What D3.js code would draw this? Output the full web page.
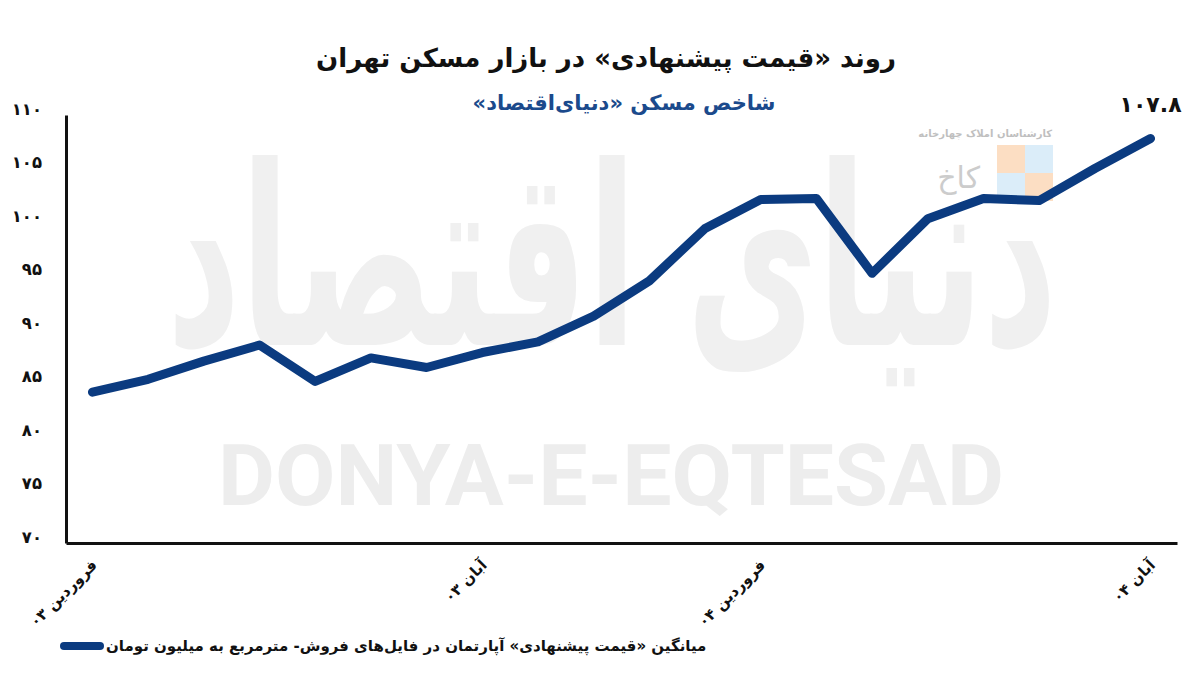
<!DOCTYPE html>
<html><head><meta charset="utf-8">
<script src="https://cdn.jsdelivr.net/npm/d3@7"></script>
<style>
html,body{margin:0;padding:0;background:#fff;}
svg{display:block;font-family:"DejaVu Sans","Noto Sans",sans-serif;}
</style></head>
<body><svg id="c" width="1200" height="686"></svg>
<script>
const months = ["فروردین ۰۳","اردیبهشت ۰۳","خرداد ۰۳","تیر ۰۳","مرداد ۰۳","شهریور ۰۳","مهر ۰۳","آبان ۰۳","آذر ۰۳","دی ۰۳","بهمن ۰۳","اسفند ۰۳","فروردین ۰۴","اردیبهشت ۰۴","خرداد ۰۴","تیر ۰۴","مرداد ۰۴","شهریور ۰۴","مهر ۰۴","آبان ۰۴"];
const values = [84.1,85.3,87.0,88.5,85.1,87.3,86.4,87.8,88.8,91.2,94.5,99.4,102.1,102.2,95.2,100.3,102.2,102.0,105.0,107.8];
const xTickLabels = ["فروردین ۰۳","آبان ۰۳","فروردین ۰۴","آبان ۰۴"];
const yTicks = [70,75,80,85,90,95,100,105,110];
const title = "روند «قیمت پیشنهادی» در بازار مسکن تهران";
const subtitle = "شاخص مسکن «دنیای‌اقتصاد»";
const legendLabel = "میانگین «قیمت پیشنهادی» آپارتمان در فایل‌های فروش- مترمربع به میلیون تومان";

const fa = s => String(s).replace(/\d/g, d => "۰۱۲۳۴۵۶۷۸۹"[d]);
const svg = d3.select("#c");
const lineColor = "#0b3b80";

// watermark
const wm = svg.append("g");
wm.append("text").attr("x",612).attr("y",345).attr("text-anchor","middle")
  .attr("direction","rtl").attr("font-size",250).attr("font-weight","bold")
  .attr("fill","#f0f0f0").attr("textLength",890).attr("lengthAdjust","spacingAndGlyphs")
  .text("دنیای اقتصاد");
wm.append("text").attr("x",218).attr("y",505).attr("font-family","Roboto, sans-serif")
  .attr("font-size",86).attr("font-weight","bold").attr("fill","#ededed")
  .attr("textLength",786).attr("lengthAdjust","spacingAndGlyphs")
  .text("DONYA-E-EQTESAD");
// small logo
const lg = svg.append("g").attr("opacity",0.75);
[[997,145,"#fbd3b0"],[1025,145,"#cfe8f8"],[997,173,"#cfe8f8"],[1025,173,"#fbd3b0"]].forEach(d=>{
  lg.append("rect").attr("x",d[0]).attr("y",d[1]).attr("width",28).attr("height",28).attr("fill",d[2]);
});
lg.append("text").attr("x",1052).attr("y",137).attr("text-anchor","start").attr("direction","rtl")
  .attr("font-size",10).attr("font-weight","bold").attr("fill","#aaa").text("کارشناسان املاک چهارخانه");
lg.append("text").attr("x",980).attr("y",188).attr("text-anchor","start").attr("direction","rtl")
  .attr("font-size",30).attr("fill","#bbb").text("کاخ");

const x = d3.scalePoint().domain(months).range([66,1177]).padding(0.475);
const y = d3.scaleLinear().domain([70,110]).range([543,115]);

// y axis
const ya = svg.append("g").attr("transform","translate(66,0)")
  .call(d3.axisLeft(y).tickValues(yTicks).tickSize(0).tickPadding(24).tickFormat(fa));
ya.select(".domain").attr("stroke","#111").attr("stroke-width",3);
ya.selectAll("text").attr("font-size",16.5).attr("font-weight","bold").attr("fill","#111")
  .attr("font-family","DejaVu Sans, sans-serif").attr("dy","-0.05em");

// x axis
const xa = svg.append("g").attr("transform","translate(0,543)")
  .call(d3.axisBottom(x).tickValues(xTickLabels).tickSize(0).tickFormat(d=>d));
xa.select(".domain").attr("stroke","#111").attr("stroke-width",3);
xa.selectAll("text").attr("font-size",15).attr("font-weight","bold").attr("fill","#111")
  .attr("font-family","DejaVu Sans, sans-serif")
  .attr("direction","rtl").attr("text-anchor","start")
  .attr("dy",null).attr("y",0)
  .attr("transform","translate(5,23) rotate(-45)");

// line
svg.append("path").datum(values)
  .attr("d", d3.line().x((d,i)=>x(months[i])).y(d=>y(d)))
  .attr("fill","none").attr("stroke",lineColor).attr("stroke-width",9)
  .attr("stroke-linecap","round").attr("stroke-linejoin","round");

// end label
svg.append("text").attr("x",x(months[months.length-1])).attr("y",112)
  .attr("text-anchor","middle").attr("font-size",22).attr("font-weight","bold").attr("fill","#111")
  .text(fa(values[values.length-1]));

// titles
svg.append("text").attr("x",606).attr("y",67).attr("text-anchor","middle").attr("direction","rtl")
  .attr("font-size",26).attr("font-weight","bold").attr("fill","#111").text(title);
svg.append("text").attr("x",624).attr("y",110).attr("text-anchor","middle").attr("direction","rtl")
  .attr("font-size",21).attr("font-weight","bold").attr("fill","#1b4a8c").text(subtitle);

// legend
svg.append("line").attr("x1",64).attr("x2",100).attr("y1",646).attr("y2",646)
  .attr("stroke",lineColor).attr("stroke-width",8).attr("stroke-linecap","round");
svg.append("text").attr("x",106).attr("y",651).attr("text-anchor","end").attr("direction","rtl")
  .attr("font-size",15).attr("font-weight","bold").attr("fill","#111").text(legendLabel);
</script></body></html>
